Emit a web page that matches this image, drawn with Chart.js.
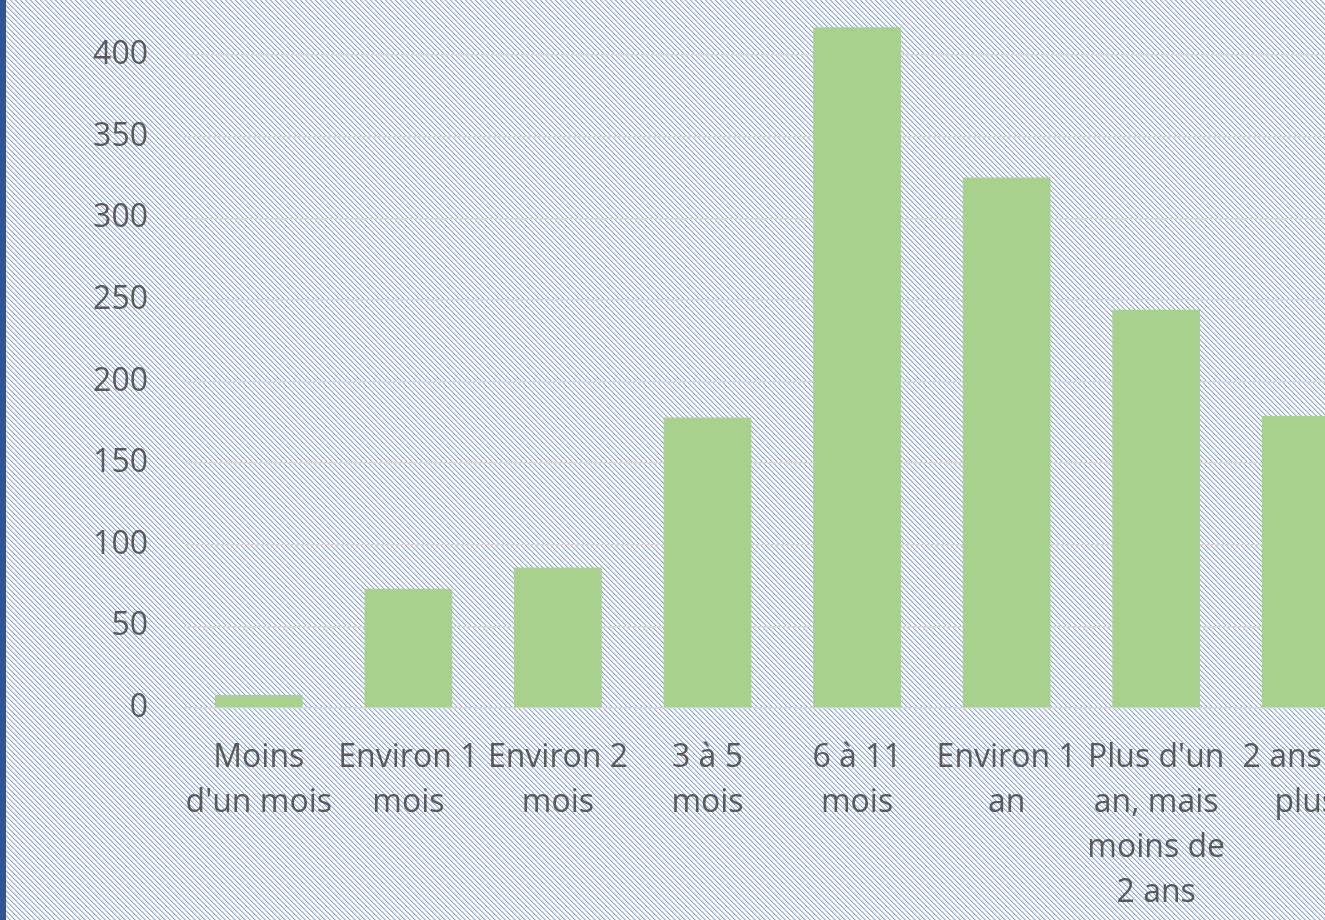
<!DOCTYPE html>
<html>
<head>
<meta charset="utf-8">
<script src="https://cdn.jsdelivr.net/npm/chart.js@4"></script>
<style>
  html, body { margin: 0; padding: 0; width: 1325px; height: 920px; overflow: hidden; background: #fff; }
  #bg { position: absolute; left: 0; top: 0; width: 1325px; height: 920px; }
  #edge { position: absolute; left: 0; top: 0; width: 6px; height: 920px; background: #2f5597; }
  #wrap { position: absolute; left: 0; top: -100px; width: 1396px; height: 1028px; }
</style>
</head>
<body>
<div id="bg"></div>
<div id="wrap"><canvas id="c" width="1396" height="1028"></canvas></div>
<div id="edge"></div>
<script>
// ---- data ----
const categories = [
  ["Moins", "d'un mois"],
  ["Environ 1", "mois"],
  ["Environ 2", "mois"],
  ["3 à 5", "mois"],
  ["6 à 11", "mois"],
  ["Environ 1", "an"],
  ["Plus d'un", "an, mais", "moins de", "2 ans"],
  ["2 ans ou", "plus"]
];
const values = [8, 73, 86, 178, 417, 325, 244, 179];
const yTicks = [0, 50, 100, 150, 200, 250, 300, 350, 400, 450];

// ---- hatch background tile ----
(function () {
  const t = document.createElement('canvas');
  t.width = 5; t.height = 5;
  const g = t.getContext('2d');
  g.fillStyle = '#ffffff'; g.fillRect(0, 0, 5, 5);
  for (let y = 0; y < 5; y++) {
    for (let x = 0; x < 5; x++) {
      const m = ((x - y) % 5 + 5) % 5;
      if (m === 0) { g.fillStyle = '#8fa7d9'; g.fillRect(x, y, 1, 1); }
      else if (m === 1) { g.fillStyle = '#c6d2ee'; g.fillRect(x, y, 1, 1); }
    }
  }
  const bg = document.getElementById('bg');
  bg.style.backgroundImage = 'url(' + t.toDataURL() + ')';
  bg.style.backgroundRepeat = 'repeat';
})();

const textColor = '#595959';
const font = { family: "'Open Sans', 'Noto Sans', sans-serif", size: 32, lineHeight: 45 / 32 };

new Chart(document.getElementById('c'), {
  type: 'bar',
  data: {
    labels: categories,
    datasets: [{
      data: values,
      backgroundColor: '#a9d18e',
      borderWidth: 0,
      categoryPercentage: 1,
      barPercentage: 0.587
    }]
  },
  options: {
    responsive: false,
    animation: false,
    devicePixelRatio: 1,
    layout: { padding: { top: 73.4, left: 0, right: 0, bottom: 0 } },
    plugins: { legend: { display: false }, tooltip: { enabled: false } },
    scales: {
      x: {
        grid: { display: false, drawTicks: false },
        border: { display: false },
        ticks: { color: textColor, font: font, padding: 27, maxRotation: 0, autoSkip: false },
        afterFit: (s) => { s.height = 220; }
      },
      y: {
        min: yTicks[0],
        max: yTicks[yTicks.length - 1],
        afterBuildTicks: (s) => { s.ticks = yTicks.map(v => ({ value: v })); },
        grid: { color: '#d9d9d9', lineWidth: 1.4, drawTicks: false },
        border: { display: false },
        ticks: { color: textColor, font: font, padding: 36 },
        afterFit: (s) => { s.width = 184; }
      }
    }
  }
});
</script>
</body>
</html>
